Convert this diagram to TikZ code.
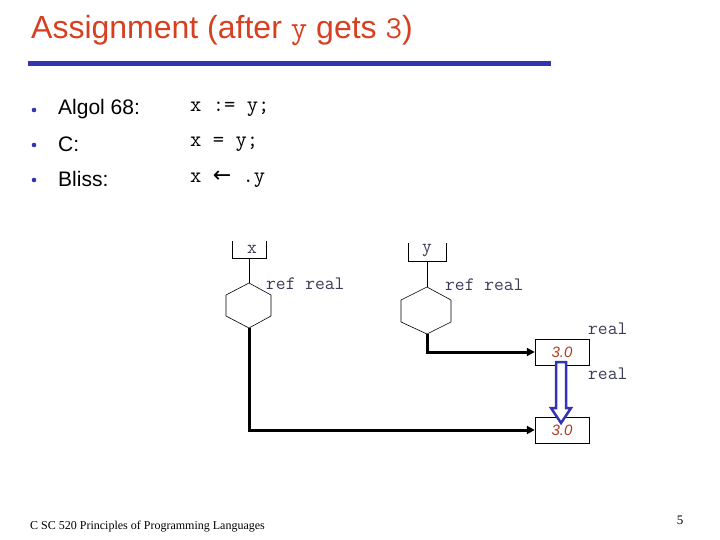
\documentclass[tikz,border=0pt]{standalone}
\usepackage{fontspec}
\setmainfont{Liberation Sans}
\newfontfamily\timesf{Liberation Serif}
\newfontfamily\dejavu{DejaVu Sans}
\usetikzlibrary{arrows.meta}
\definecolor{ttl}{RGB}{214,64,32}
\definecolor{bar}{RGB}{52,52,178}
\definecolor{code}{RGB}{60,60,90}
\definecolor{val}{RGB}{170,60,40}
\tikzset{
 lbl/.style={inner sep=0pt,anchor=west,font=\fontsize{21}{24}\selectfont},
 cd/.style={inner sep=0pt,anchor=west,font=\ttfamily\fontsize{22}{24}\selectfont},
 small/.style={inner sep=0pt,font=\ttfamily\fontsize{19}{20}\selectfont,text=code},
 cell/.style={draw,minimum width=54pt,minimum height=26pt,inner sep=0pt,font=\itshape\fontsize{15}{18}\selectfont,text=val},
 ptr/.style={line width=3pt,-{Triangle[length=8pt,width=8pt]}},
 hexl/.style={draw,line width=0.6pt},
}
\begin{document}
\begin{tikzpicture}[x=1pt,y=-1pt]
\useasboundingbox (0,0) rectangle (720,540);
\node[inner sep=0pt,anchor=west,text=ttl,font=\fontsize{32}{36}\selectfont] (title) at (31,31) {Assignment (after {\ttfamily y} gets {\ttfamily 3})};
\fill[bar] (28,61) rectangle (551,66);
\foreach \yy/\t [count=\i] in {109/Algol 68:,144/C:,179/Bliss:}{
  \fill[bar] (34,\yy+1) circle (2.3pt);
  \node[lbl] (l\i) at (58,\yy) {\t};
}
\node[cd] (c1) at (190,109) {x := y;};
\node[cd] (c2) at (190,144) {x = y;};
\node[cd] (c3) at (190,179) {x {\dejavu ←} .y};
% variable boxes
\draw (232,241) -- (232,258) -- (266,258) -- (266,241);
\node[small] (xn) at (252,249) {x};
\draw (408,243) -- (408,261) -- (446,261) -- (446,243);
\node[small] (yn) at (427,251) {y};
% hexagons
\coordinate (hxt) at (249,283); \coordinate (hxb) at (249,328);
\coordinate (hyt) at (427,287); \coordinate (hyb) at (427,334);
\draw[hexl] (hxt) -- (271,295) -- (271,316) -- (hxb) -- (226,316) -- (226,295) -- cycle;
\draw[hexl] (hyt) -- (451,300) -- (451,322) -- (hyb) -- (401,322) -- (401,300) -- cycle;
\draw (249,258) -- (hxt);
\draw (427,261) -- (hyt);
\node[small,anchor=west] (rx) at (266,284) {ref real};
\node[small,anchor=west] (ry) at (445,285) {ref real};
\node[cell] (b1) at (562,352) {3.0};
\node[cell] (b2) at (562,430) {3.0};
\node[small,anchor=west] (r1) at (588,329) {real};
\node[small,anchor=west] (r2) at (588,374) {real};
\draw[ptr] (hyb) |- (b1.west);
\draw[ptr] (hxb) |- (b2.west);
\draw[bar,line width=2.5pt,fill=white,line join=miter] (556,362) -- (566,362) -- (566,408) -- (571,408) -- (561,423) -- (551,408) -- (556,408) -- cycle;
\node[inner sep=0pt,anchor=west,font=\timesf\fontsize{12}{14}\selectfont] (foot) at (30,527) {C SC 520 Principles of Programming Languages};
\node[inner sep=0pt,font=\timesf\fontsize{13}{15}\selectfont] (pg) at (680,520) {5};
\end{tikzpicture}
\end{document}
